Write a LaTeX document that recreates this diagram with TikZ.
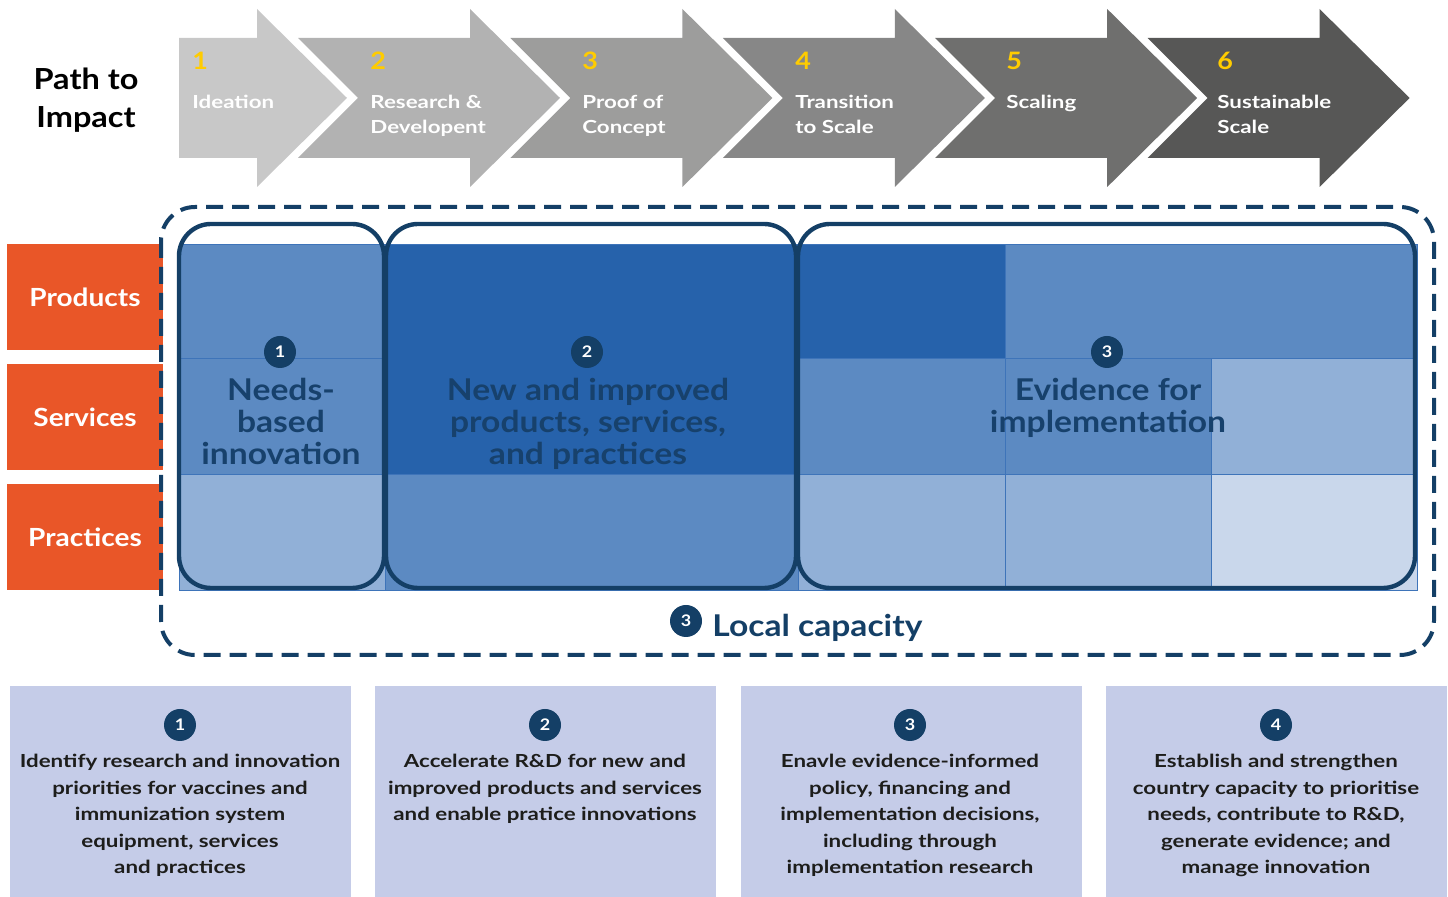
\documentclass[tikz,border=0pt]{standalone}
\usepackage{fontspec}
\setmainfont{Lato}[FakeStretch=1.12]
\newfontfamily\smallwide{Lato}[FakeStretch=1.24]
\definecolor{phaseA}{HTML}{C8C8C8}
\definecolor{phaseB}{HTML}{B2B2B2}
\definecolor{phaseC}{HTML}{9D9D9C}
\definecolor{phaseD}{HTML}{878787}
\definecolor{phaseE}{HTML}{6F6F6E}
\definecolor{phaseF}{HTML}{575756}
\definecolor{numyellow}{HTML}{FFCC00}
\definecolor{rowred}{HTML}{E95628}
\definecolor{navy}{HTML}{143F66}
\definecolor{areaink}{HTML}{17416C}
\definecolor{bluedark}{HTML}{2662AB}
\definecolor{bluemid}{HTML}{5C8AC2}
\definecolor{bluelight}{HTML}{91B0D7}
\definecolor{bluepale}{HTML}{C9D7EB}
\definecolor{gridline}{HTML}{3E74B9}
\definecolor{goalfill}{HTML}{C5CCE8}
\definecolor{goalink}{HTML}{1D1D1B}
\begin{document}
\begin{tikzpicture}[x=0.5pt,y=-0.5pt,
  phasename/.style={anchor=north west,align=left,inner sep=0pt,text=white,font=\smallwide\bfseries\fontsize{9}{12.5}\selectfont},
  phasenum/.style={anchor=base west,inner sep=0pt,text=numyellow,font=\bfseries\fontsize{12}{12}\selectfont},
  rowlabel/.style={fill=rowred,text=white,minimum width=78pt,minimum height=53pt,inner sep=0pt,font=\bfseries\fontsize{12.5}{14}\selectfont},
  cell/.style={draw=gridline,line width=0.4pt},
  areabox/.style={draw=navy,line width=2.2pt,rounded corners=16pt},
  badge/.style={circle,fill=navy,text=white,minimum size=16pt,inner sep=0pt,font=\bfseries\fontsize{8}{8}\selectfont},
  areatext/.style={anchor=north,align=center,inner sep=0pt,text=areaink,font=\bfseries\fontsize{15}{16}\selectfont},
  goaltext/.style={anchor=north,align=center,inner sep=0pt,text=goalink,font=\smallwide\bfseries\fontsize{9}{13.25}\selectfont}
]
\useasboundingbox (0,0) rectangle (1448,897);

\fill[phaseA] (179,38)--(257,38)--(257,9)--(347,98)--(257,187)--(257,158)--(179,158)--cycle;
\fill[phaseB] (298,38)--(470,38)--(470,9)--(560,98)--(470,187)--(470,158)--(298,158)--(358,98)--cycle;
\fill[phaseC] (510.4,38)--(682.4,38)--(682.4,9)--(772.4,98)--(682.4,187)--(682.4,158)--(510.4,158)--(570.4,98)--cycle;
\fill[phaseD] (722.8,38)--(894.8,38)--(894.8,9)--(984.8,98)--(894.8,187)--(894.8,158)--(722.8,158)--(782.8,98)--cycle;
\fill[phaseE] (935.2,38)--(1107.2,38)--(1107.2,9)--(1197.2,98)--(1107.2,187)--(1107.2,158)--(935.2,158)--(995.2,98)--cycle;
\fill[phaseF] (1147.6,38)--(1319.6,38)--(1319.6,9)--(1409.6,98)--(1319.6,187)--(1319.6,158)--(1147.6,158)--(1207.6,98)--cycle;

\node[phasenum] (n1) at (192,69.5) {1};
\node[phasenum] (n2) at (370,69.5) {2};
\node[phasenum] (n3) at (582,69.5) {3};
\node[phasenum] (n4) at (795,69.5) {4};
\node[phasenum] (n5) at (1006,69.5) {5};
\node[phasenum] (n6) at (1217,69.5) {6};

\node[phasename] (ideation) at (192,94.5) {Ideation};
\node[phasename] (research) at (370,94.5) {Research \&\\Developent};
\node[phasename] (proof) at (582,94.5) {Proof of\\Concept};
\node[phasename] (transition) at (795,94.5) {Transition\\to Scale};
\node[phasename] (scaling) at (1006,94.5) {Scaling};
\node[phasename] (sustain) at (1217,94.5) {Sustainable\\Scale};

\node[align=center,inner sep=0pt,font=\bfseries\fontsize{14.5}{19}\selectfont] (path) at (86,100) {Path to\\Impact};

\node[rowlabel] (products) at (85,297) {Products};
\node[rowlabel] (services) at (85,417) {Services};
\node[rowlabel] (practices) at (85,537) {Practices};

\filldraw[cell,fill=bluemid] (179,244) rectangle (385,358);
\filldraw[cell,fill=bluemid] (179,358) rectangle (385,474);
\filldraw[cell,fill=bluelight] (179,474) rectangle (385,590);
\filldraw[cell,fill=bluedark] (385,244) rectangle (798,474);
\filldraw[cell,fill=bluemid] (385,474) rectangle (798,590);
\filldraw[cell,fill=bluedark] (798,244) rectangle (1005,358);
\filldraw[cell,fill=bluemid] (798,358) rectangle (1005,474);
\filldraw[cell,fill=bluelight] (798,474) rectangle (1005,590);
\filldraw[cell,fill=bluemid] (1005,244) rectangle (1417,358);
\filldraw[cell,fill=bluemid] (1005,358) rectangle (1211,474);
\filldraw[cell,fill=bluelight] (1005,474) rectangle (1211,590);
\filldraw[cell,fill=bluelight] (1211,358) rectangle (1417,474);
\filldraw[cell,fill=bluepale] (1211,474) rectangle (1417,590);

\draw[areabox] (179,224) rectangle (384,588);
\draw[areabox] (386,224) rectangle (796,588);
\draw[areabox] (798,224) rectangle (1415,588);

\draw[navy,line width=2pt,dash pattern=on 8.5pt off 4.5pt,rounded corners=17pt] (161,207) rectangle (1434,655);

\node[badge] (b1) at (280,352) {1};
\node[badge] (b2) at (587,352) {2};
\node[badge] (b3) at (1107,352) {3};

\node[areatext] (needs) at (281,378) {Needs-\\based\\innovation};
\node[areatext] (newimp) at (588,378) {New and improved\\products, services,\\and practices};
\node[areatext] (evidence) at (1108,378) {Evidence for\\implementation};

\node[badge] (bl) at (686,621) {3};
\node[anchor=base west,inner sep=0pt,text=navy,font=\bfseries\fontsize{15}{16}\selectfont] (local) at (712,637) {Local capacity};

\fill[goalfill] (10,686) rectangle (351,897);
\fill[goalfill] (375,686) rectangle (716,897);
\fill[goalfill] (741,686) rectangle (1082,897);
\fill[goalfill] (1106,686) rectangle (1447,897);

\node[badge] (g1) at (180,725) {1};
\node[badge] (g2) at (545,725) {2};
\node[badge] (g3) at (910,725) {3};
\node[badge] (g4) at (1276,725) {4};

\node[goaltext] (goal1) at (180,754) {Identify research and innovation\\priorities for vaccines and\\immunization system\\equipment, services\\and practices};
\node[goaltext] (goal2) at (545,754) {Accelerate R\&D for new and\\improved products and services\\and enable pratice innovations};
\node[goaltext] (goal3) at (910,754) {Enavle evidence-informed\\policy, financing and\\implementation decisions,\\including through\\implementation research};
\node[goaltext] (goal4) at (1276,754) {Establish and strengthen\\country capacity to prioritise\\needs, contribute to R\&D,\\generate evidence; and\\manage innovation};
\end{tikzpicture}
\end{document}
